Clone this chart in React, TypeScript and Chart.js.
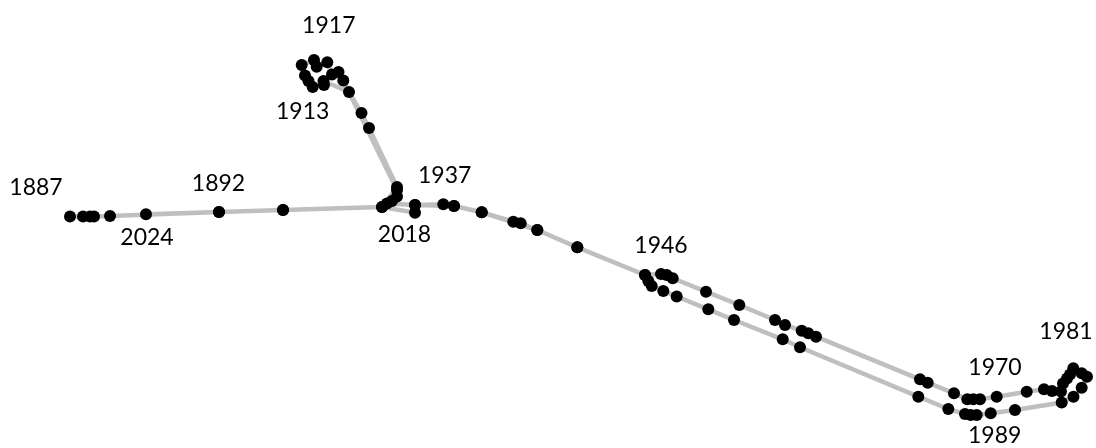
import React, { useEffect, useRef } from "react";
import { Chart, registerables } from "chart.js";

Chart.register(...registerables);

// Year of each observation, in path order
const years: number[] = [
  1887, 1888, 1889, 1890, 1891, 1892, 1897, 1903, 1907, 1908, 1909, 1910,
  1911, 1912, 1913, 1914, 1915, 1916, 1917, 1918, 1919, 1920, 1921, 1922,
  1923, 1924, 1925, 1926, 1930, 1937, 1938, 1939, 1940, 1941, 1942, 1943,
  1944, 1946, 1947, 1948, 1949, 1950, 1951, 1952, 1953, 1954, 1955, 1962,
  1963, 1966, 1967, 1968, 1969, 1970, 1972, 1974, 1975, 1976, 1977, 1978,
  1979, 1981, 1982, 1983, 1984, 1985, 1986, 1988, 1989, 1990, 1991, 1992,
  1993, 1994, 2001, 2002, 2004, 2005, 2007, 2008, 2009, 2010, 2011, 2012,
  2013, 2014, 2015, 2017, 2018, 2019, 2021, 2022, 2024,
];

// Horizontal value (arbitrary units)
const xValues: number[] = [
  7.0, 8.3, 9.0, 9.4, 11.0, 21.9, 28.3, 38.2, 39.7, 36.9, 36.15, 34.9,
  32.35, 32.4, 31.27, 30.85, 30.5, 30.17, 31.4, 31.67, 32.73, 33.2, 33.85, 34.33,
  39.7, 39.7, 39.2, 38.7, 41.5, 44.33, 45.4, 48.17, 51.33, 52.07, 53.73, 57.73,
  64.5, 66.1, 66.67, 67.27, 70.6, 73.93, 77.5, 78.5, 80.17, 80.83, 81.6, 92.0,
  92.77, 95.4, 96.73, 97.33, 98.0, 99.67, 102.67, 104.4, 105.2, 106.1, 106.3, 106.7,
  107.0, 107.33, 108.17, 108.7, 108.17, 107.35, 106.17, 101.5, 99.07, 97.67, 97.07, 96.5,
  94.83, 91.83, 80.0, 78.27, 73.4, 70.83, 67.67, 66.33, 65.17, 64.83, 64.5, 57.73,
  53.73, 48.17, 45.4, 41.5, 41.5, 38.2, 28.3, 21.9, 14.6,
];

// Vertical value (arbitrary units)
const yValues: number[] = [
  23.15, 23.15, 23.15, 23.15, 23.2, 23.6, 23.8, 24.1, 26.1, 32.0, 33.5, 35.6,
  36.7, 36.3, 36.1, 36.7, 37.25, 38.3, 38.8, 38.13, 38.57, 37.35, 37.6, 36.75,
  25.8, 25.15, 24.7, 24.45, 24.3, 24.37, 24.2, 23.57, 22.63, 22.47, 21.8, 20.07,
  17.3, 17.4, 17.3, 16.97, 15.63, 14.3, 12.8, 12.3, 11.73, 11.47, 11.13, 6.87,
  6.53, 5.47, 4.87, 4.87, 4.87, 5.13, 5.63, 5.87, 5.7, 5.65, 6.45, 6.95,
  7.35, 7.97, 7.47, 7.13, 6.03, 5.13, 4.55, 3.8, 3.47, 3.3, 3.3, 3.4,
  3.9, 5.13, 10.07, 10.87, 12.8, 13.87, 15.15, 15.7, 16.2, 16.7, 17.3, 20.07,
  21.8, 23.57, 24.2, 24.3, 23.53, 24.1, 23.8, 23.6, 23.37,
];

// Years that carry a text label
const labelYears: number[] = [1887, 1892, 1913, 1917, 1937, 1946, 1970, 1981, 1989, 2018, 2024];
// Label placement relative to its point (pixels), style only
const labelOffsets: [number, number][] = [
  [-34, -30], [-0.5, -29.5], [-10, 23.8], [14.8, -35.7], [1.4, -29.6], [0, -29],
  [-1.7, -29.5], [-7.3, -37.3], [4, 21.7], [-10.5, 21.3], [1, 22.4],
];

const FONT_SIZE = 23;

const labelPlugin = {
  id: "yearLabels",
  afterDatasetsDraw(chart: any) {
    const meta = chart.getDatasetMeta(0);
    const ctx = chart.ctx;
    ctx.save();
    ctx.font = `${FONT_SIZE}px Lato`;
    ctx.fillStyle = "#000000";
    ctx.textAlign = "center";
    ctx.textBaseline = "alphabetic";
    labelYears.forEach((yr, k) => {
      const i = years.indexOf(yr);
      if (i < 0) return;
      const el = meta.data[i];
      if (!el) return;
      const [dx, dy] = labelOffsets[k];
      const capHalf = (FONT_SIZE * 0.7165) / 2;
      ctx.fillText(String(yr), el.x + dx, el.y + dy + capHalf);
    });
    ctx.restore();
  },
};

export default function App() {
  const ref = useRef<HTMLCanvasElement | null>(null);
  useEffect(() => {
    if (!ref.current) return;
    const chart = new Chart(ref.current, {
      type: "scatter",
      data: {
        datasets: [
          {
            label: "path",
            data: years.map((_, i) => ({ x: xValues[i], y: yValues[i] })),
            showLine: true,
            borderColor: "#bfbfbf",
            borderWidth: 4.5,
            pointRadius: 6,
            pointHoverRadius: 6,
            pointBackgroundColor: "#000000",
            pointBorderColor: "#000000",
            pointBorderWidth: 0,
            tension: 0,
            clip: false as any,
          },
        ],
      },
      options: {
        animation: false,
        responsive: false,
        devicePixelRatio: 1,
        layout: { padding: 0, autoPadding: false },
        plugins: { legend: { display: false }, tooltip: { enabled: false } },
        scales: {
          x: { type: "linear", min: 0, max: 109.6, display: false },
          y: { type: "linear", min: 0, max: 44.8, display: false },
        },
      },
      plugins: [labelPlugin],
    });
    return () => chart.destroy();
  }, []);
  return (
    <div style={{ position: "absolute", left: 0, top: 0, width: 1096, height: 448, background: "#fff" }}>
      <canvas ref={ref} width={1096} height={448} />
    </div>
  );
}
